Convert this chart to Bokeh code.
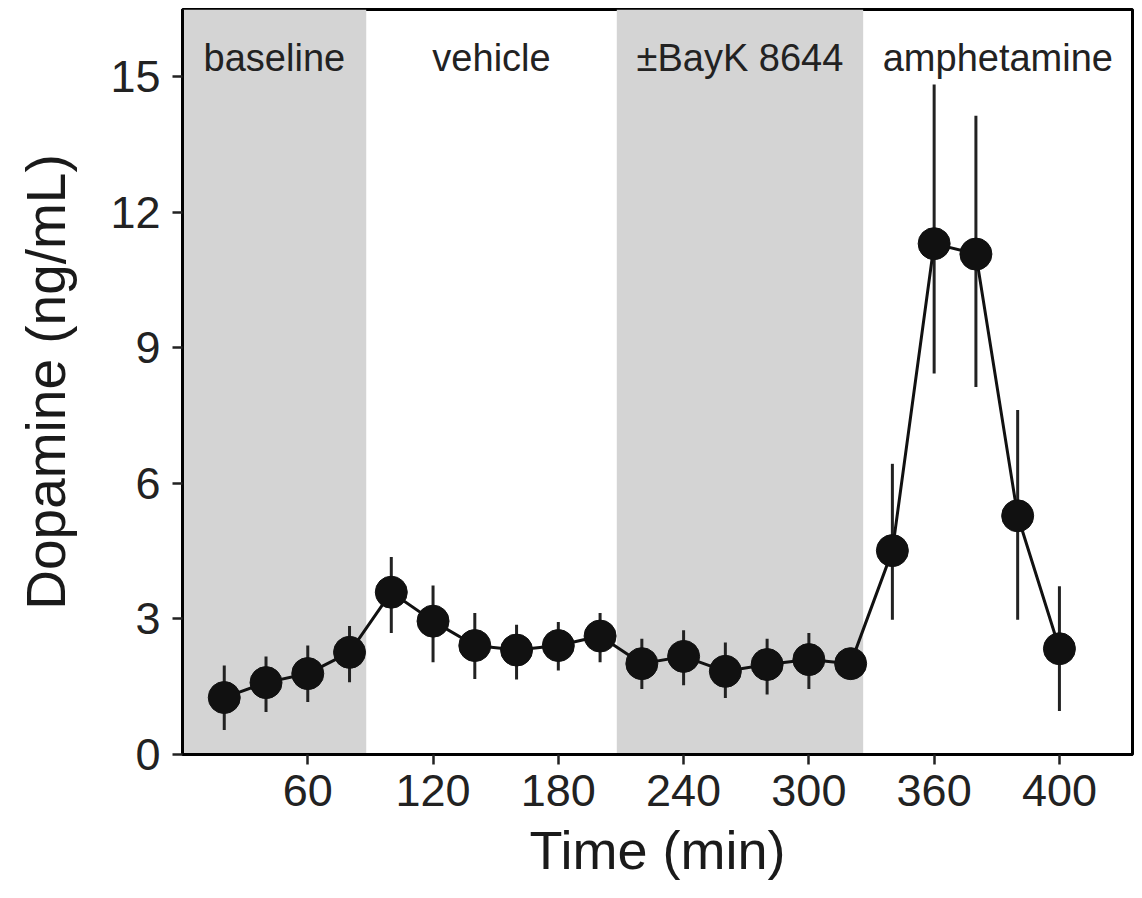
from bokeh.plotting import figure
from bokeh.models import Range1d, FixedTicker, BoxAnnotation
from bokeh.embed import file_html
from bokeh.resources import INLINE
from bokeh.core.properties import value

# ---------------- data ----------------
time_min = [20, 40, 60, 80, 100, 120, 140, 160, 180, 200, 220,
            240, 260, 280, 300, 320, 340, 360, 380, 400, 420]
dopamine = [1.26, 1.59, 1.79, 2.26, 3.59, 2.95, 2.41, 2.31, 2.41, 2.62, 2.01,
            2.17, 1.84, 1.99, 2.10, 2.01, 4.51, 11.30, 11.07, 5.28, 2.34]
err_upper = [1.97, 2.17, 2.41, 2.84, 4.37, 3.74, 3.13, 2.87, 2.93, 3.13, 2.56,
             2.75, 2.48, 2.56, 2.69, 2.31, 6.43, 14.82, 14.13, 7.62, 3.72]
err_lower = [0.54, 0.94, 1.16, 1.60, 2.69, 2.04, 1.67, 1.66, 1.86, 2.04, 1.45,
             1.53, 1.25, 1.33, 1.45, 1.71, 2.98, 8.43, 8.13, 2.98, 0.96]

phase_names = ["baseline", "vehicle", "\u00b1BayK 8644", "amphetamine"]
phase_start = [0, 88, 208, 326]
phase_end = [88, 208, 326, 455]
phase_shaded = [True, False, True, False]

x_ticks = [60, 120, 180, 240, 300, 360, 420]
x_tick_labels = ["60", "120", "180", "240", "300", "360", "400"]
y_ticks = [0, 3, 6, 9, 12, 15]

x_title = "Time (min)"
y_title = "Dopamine (ng/mL)"

# ---------------- layout / style ----------------
W, H = 1134, 882
FONT = "Liberation Sans"
INK = "#111111"
SHADE = "#d4d4d4"
LABEL_Y = 15.40

p = figure(width=W, height=H,
           x_range=Range1d(0, 455), y_range=Range1d(0, 16.48),
           output_backend="svg", toolbar_location=None,
           min_border_left=182, min_border_right=2,
           min_border_top=9, min_border_bottom=127)

p.grid.visible = False
p.background_fill_color = "white"
p.border_fill_color = "white"
p.outline_line_color = "black"
p.outline_line_width = 3

for s, e, sh in zip(phase_start, phase_end, phase_shaded):
    if sh:
        p.add_layout(BoxAnnotation(left=s, right=e, fill_color=SHADE, fill_alpha=1.0,
                                   line_alpha=0, level="underlay"))

centers = [(s + e) / 2 for s, e in zip(phase_start, phase_end)]
p.text(x=centers, y=[LABEL_Y] * len(centers), text=phase_names,
       text_align="center", text_baseline="alphabetic",
       text_font=value(FONT), text_font_size="38px", text_color="#222222")

p.segment(x0=time_min, y0=err_lower, x1=time_min, y1=err_upper,
          line_width=3, line_color="#222222")
p.line(time_min, dopamine, line_width=3, line_color=INK)
p.scatter(time_min, dopamine, size=32, fill_color=INK, line_color=INK)

p.xaxis.ticker = FixedTicker(ticks=x_ticks)
p.xaxis.major_label_overrides = {t: l for t, l in zip(x_ticks, x_tick_labels)}
p.yaxis.ticker = FixedTicker(ticks=y_ticks)

p.axis.minor_tick_line_color = None
p.axis.major_tick_in = 0
p.axis.major_tick_out = 10
p.axis.major_tick_line_width = 2.5
p.axis.major_tick_line_color = "#222222"
p.axis.axis_line_width = 3
p.axis.axis_line_color = "black"
p.axis.major_label_text_font = FONT
p.axis.major_label_text_font_size = "45px"
p.axis.major_label_text_color = "#222222"
p.xaxis.major_label_standoff = 10
p.yaxis.major_label_standoff = 12

p.xaxis.axis_label = x_title
p.yaxis.axis_label = y_title
p.axis.axis_label_text_font = FONT
p.axis.axis_label_text_font_style = "normal"
p.axis.axis_label_text_color = "#1a1a1a"
p.xaxis.axis_label_text_font_size = "54px"
p.yaxis.axis_label_text_font_size = "55px"
p.xaxis.axis_label_standoff = 11
p.yaxis.axis_label_standoff = 30

open("out.html", "w").write(file_html(p, INLINE))
